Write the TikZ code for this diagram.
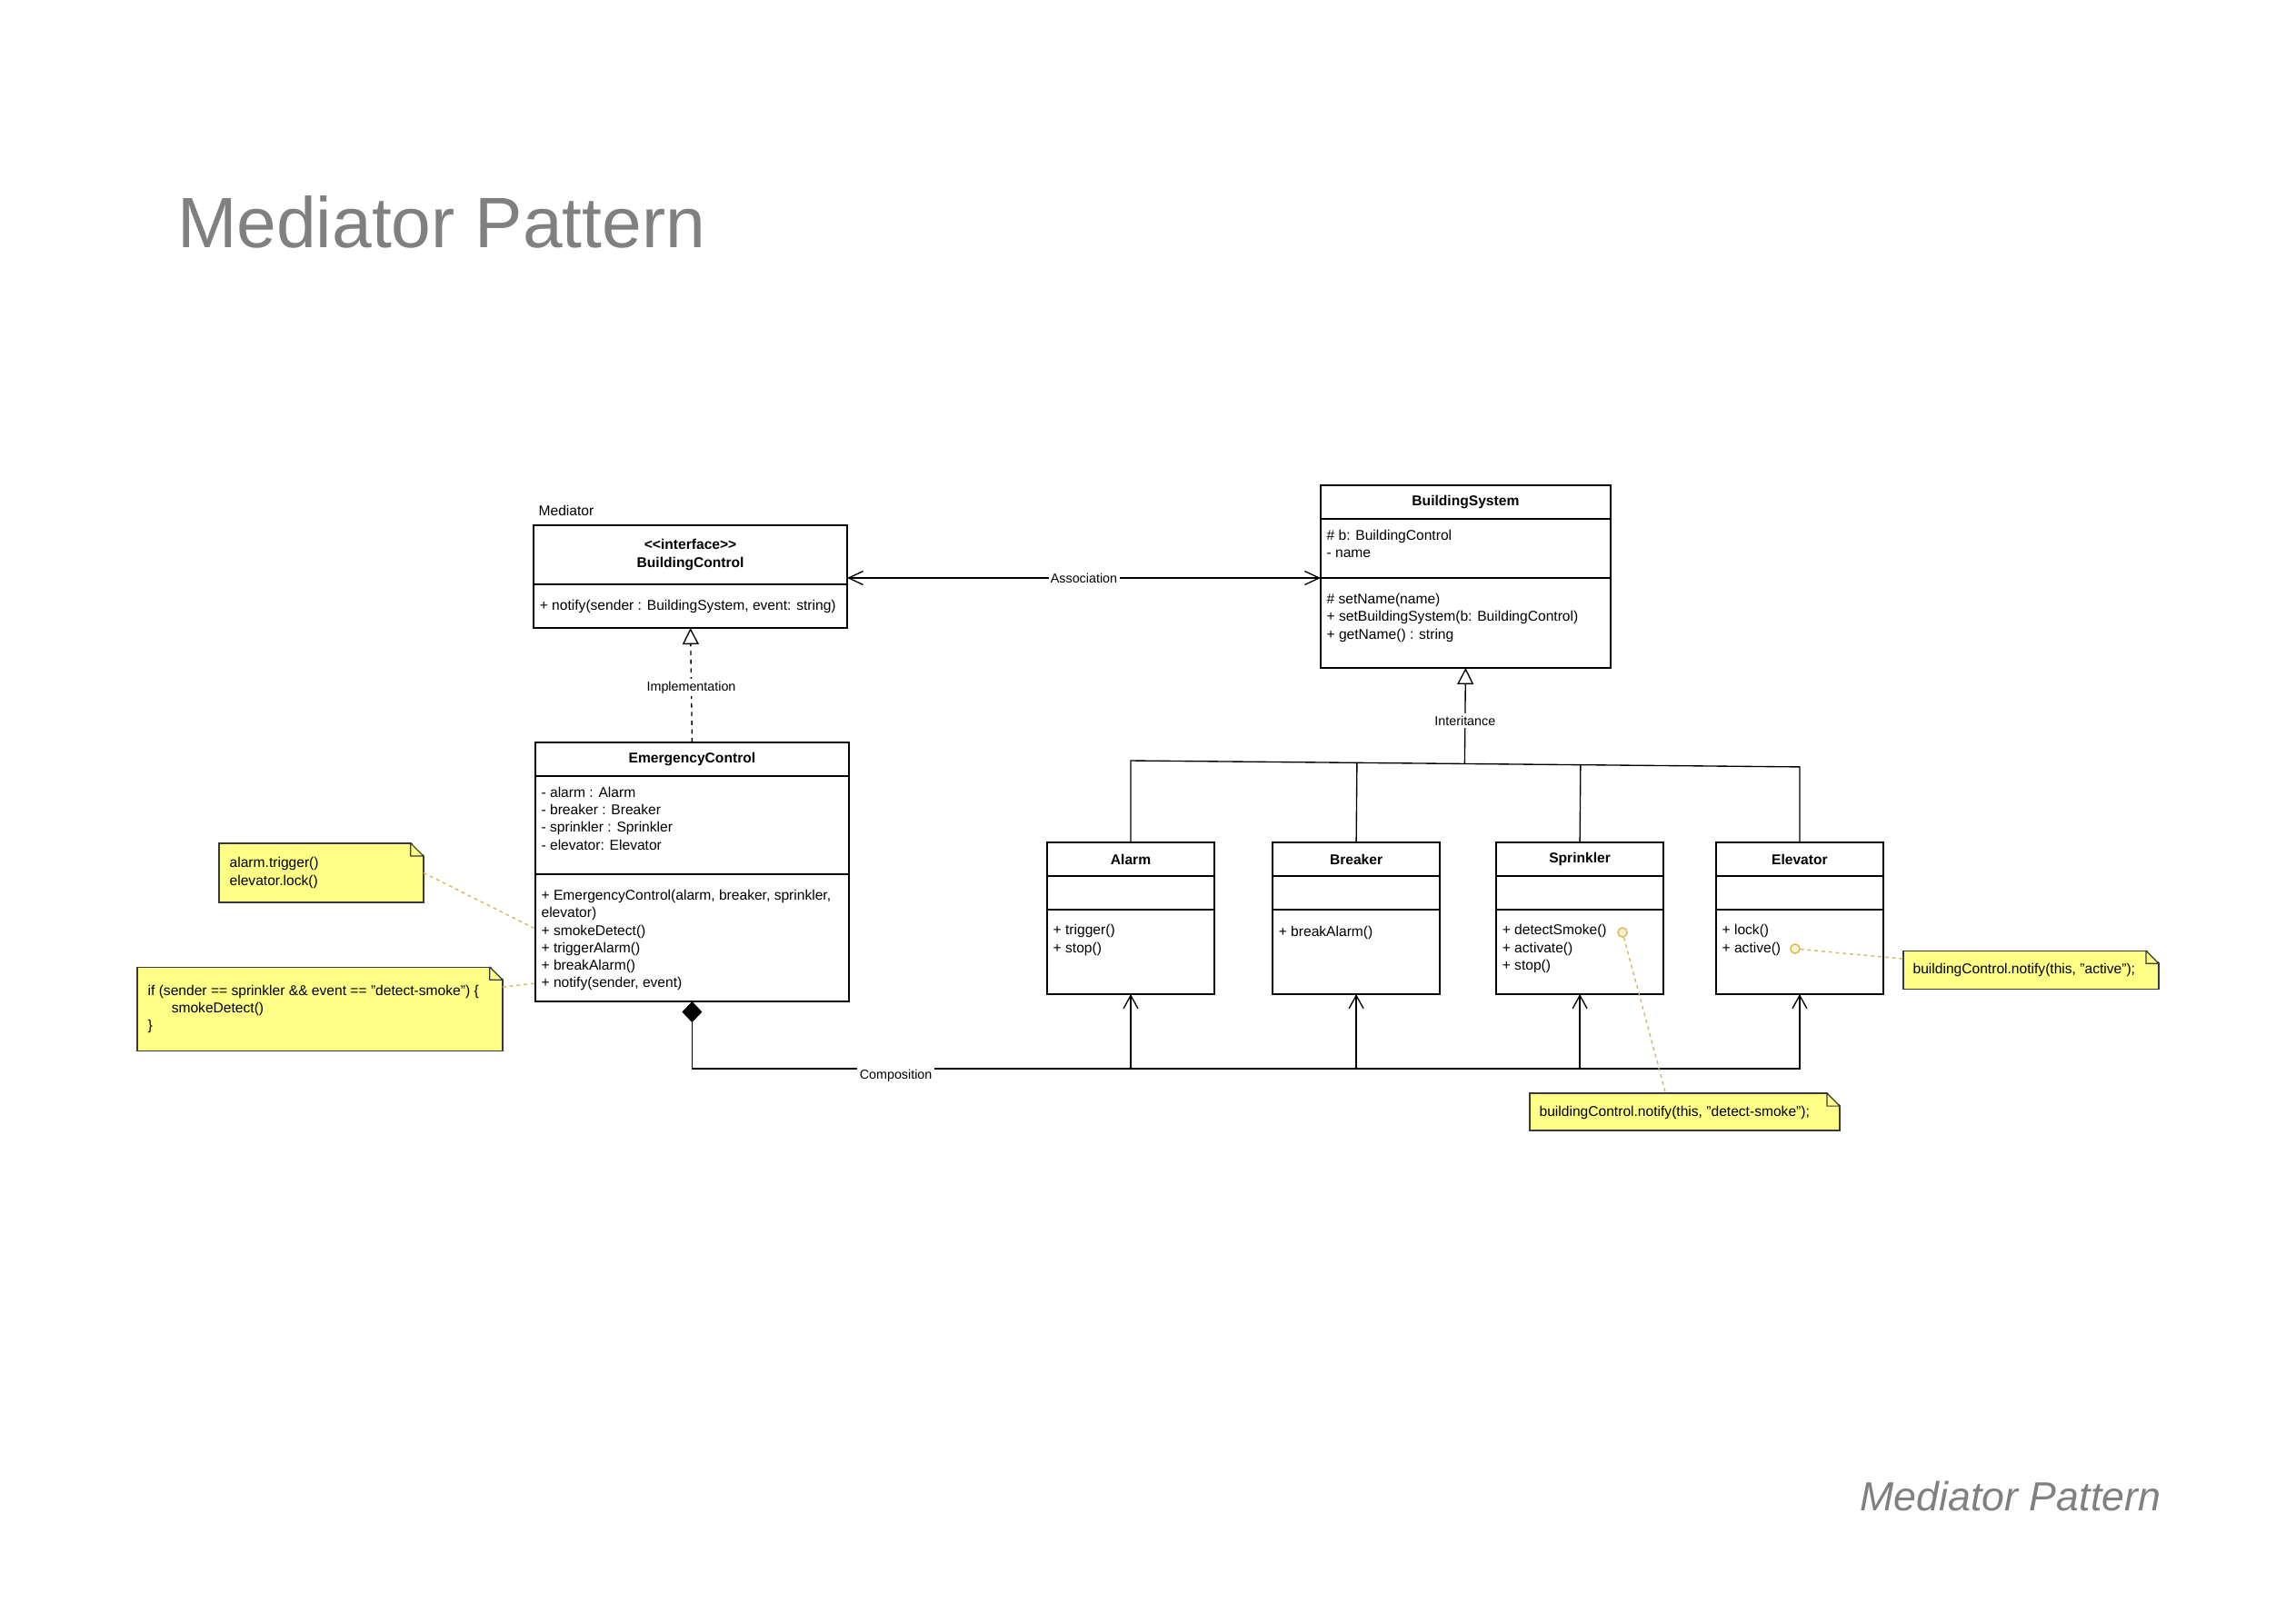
\documentclass[tikz,border=0pt]{standalone}
\usepackage{fontspec}
\setmainfont{Liberation Sans}
\usetikzlibrary{arrows.meta, positioning, calc}

\definecolor{titlegray}{RGB}{128, 128, 128}
\definecolor{notefill}{RGB}{255, 255, 136}
\definecolor{noteline}{RGB}{54, 57, 61}
\definecolor{linkgold}{RGB}{214, 182, 86}
\definecolor{dotfill}{RGB}{255, 242, 204}

\newcommand{\umlfont}{\fontsize{5.2pt}{6.38pt}\selectfont}
\newcommand{\tagfont}{\fontsize{4.77pt}{5.7pt}\selectfont}

\tikzset{
  classbox/.style={draw=black, line width=0.45pt, outer sep=0pt, inner sep=0pt, minimum width=#1},
  classhead/.style={classbox=#1, font=\umlfont\bfseries, align=center},
  members/.style={anchor=north west, align=left, inner sep=0pt, font=\umlfont, execute at begin node={\rule{0pt}{4.2pt}}},
  umlnote/.style={fill=notefill, draw=noteline, line width=0.4pt, outer sep=0pt, inner sep=0pt},
  notelink/.style={draw=linkgold, line width=0.45pt, dash pattern=on 1.3pt off 1.3pt},
  notedot/.style={circle, draw=linkgold, fill=dotfill, line width=0.45pt, minimum size=3.4pt, inner sep=0pt},
  edgelabel/.style={fill=white, inner sep=0.8pt, font=\tagfont},
  openhead/.style={-{Straight Barb[length=4.8pt, width=5.3pt]}},
}

\begin{document}
\begin{tikzpicture}[x=1pt, y=-1pt, line width=0.45pt]
  \path[use as bounding box, fill=white] (0,0) rectangle (842,595);

  % titles
  \node[anchor=base west, inner sep=0pt, text=titlegray, font=\fontsize{26.2pt}{31pt}\selectfont] (title) at (64.8,90.7) {Mediator Pattern};
  \node[anchor=base west, inner sep=0pt, text=titlegray, font=\fontsize{14.9pt}{18pt}\selectfont\itshape] (footer) at (682,554) {Mediator Pattern};

  % mediator interface
  \node[anchor=base west, inner sep=0pt, font=\umlfont] (medLabel) at (197.3,189.3) {Mediator};
  \node[classhead=115pt, minimum height=21.67pt, anchor=north west] (bcHead) at (195.7,192.67) {<\kern0pt<interface>\kern0pt>\\BuildingControl};
  \node[classbox=115pt, minimum height=16pt, below=0pt of bcHead] (bcBody) {};
  \node[members, anchor=west] (bcOps) at ([xshift=2pt]bcBody.west) {+ notify(sender : BuildingSystem, event: string)};

  % concrete mediator
  \node[classhead=115pt, minimum height=12.33pt, anchor=north west] (ecHead) at (196.3,272.33) {EmergencyControl};
  \node[classbox=115pt, minimum height=36pt, below=0pt of ecHead] (ecAttr) {};
  \node[classbox=115pt, minimum height=46.67pt, below=0pt of ecAttr] (ecMeth) {};
  \node[members] (ecAttrText) at ([shift={(2pt,-3.9pt)}]ecAttr.north west) {- alarm : Alarm\\- breaker : Breaker\\- sprinkler : Sprinkler\\- elevator: Elevator};
  \node[members] (ecMethText) at ([shift={(2pt,-5.6pt)}]ecMeth.north west) {+ EmergencyControl(alarm, breaker, sprinkler,\\elevator)\\+ smokeDetect()\\+ triggerAlarm()\\+ breakAlarm()\\+ notify(sender, event)};

  % colleague base class
  \node[classhead=106.33pt, minimum height=12.33pt, anchor=north west] (bsHead) at (484.3,178) {BuildingSystem};
  \node[classbox=106.33pt, minimum height=21.67pt, below=0pt of bsHead] (bsAttr) {};
  \node[classbox=106.33pt, minimum height=33pt, below=0pt of bsAttr] (bsMeth) {};
  \node[members] (bsAttrText) at ([shift={(2pt,-3.9pt)}]bsAttr.north west) {\# b: BuildingControl\\- name};
  \node[members] (bsMethText) at ([shift={(2pt,-5.6pt)}]bsMeth.north west) {\# setName(name)\\+ setBuildingSystem(b: BuildingControl)\\+ getName() : string};

  % colleagues
  \foreach \id/\xpos/\title in {alarm/384/Alarm, breaker/466.7/Breaker, sprinkler/548.7/Sprinkler, elevator/629.3/Elevator} {
    \node[classhead=61.33pt, minimum height=12.33pt, anchor=north west] (\id H) at (\xpos,309) {\title};
    \node[classbox=61.33pt, minimum height=12.33pt, below=0pt of \id H] (\id A) {};
    \node[classbox=61.33pt, minimum height=31pt, below=0pt of \id A] (\id M) {};
  }
  \node[members] (alarmOps) at ([shift={(2pt,-5.3pt)}]alarmM.north west) {+ trigger()\\+ stop()};
  \node[members] (breakerOps) at ([shift={(2pt,-5.3pt)}]breakerM.north west) {+ breakAlarm()};
  \node[members] (sprinklerOps) at ([shift={(2pt,-5.3pt)}]sprinklerM.north west) {+ detectSmoke()\\+ activate()\\+ stop()};
  \node[members] (elevatorOps) at ([shift={(2pt,-5.3pt)}]elevatorM.north west) {+ lock()\\+ active()};

  % association
  \draw[{Straight Barb[length=5.3pt, width=5pt]}-{Straight Barb[length=5.3pt, width=5pt]}] (bcHead.east |- bsAttr.south west) -- node[edgelabel] {Association} (bsAttr.south west);

  % implementation
  \draw[dash pattern=on 1.6pt off 1.6pt, -{Triangle[open, length=6pt, width=6pt]}] (ecHead.north) -- node[edgelabel, pos=0.48] {Implementation} (bcBody.south);

  % inheritance
  \coordinate (barL) at (415,279);
  \coordinate (barR) at (660.5,281.3);
  \draw (alarmH.north) -- (alarmH.north |- barL) -- (elevatorH.north |- barR) -- (elevatorH.north);
  \foreach \id in {breaker, sprinkler}
    \draw (\id H.north) -- ($(alarmH.north |- barL)!(\id H.north)!(elevatorH.north |- barR)$);
  \draw[-{Triangle[open, length=6pt, width=6pt]}] ($(alarmH.north |- barL)!(bsMeth.south)!(elevatorH.north |- barR)$) -- node[edgelabel, pos=0.45] {Interitance} (bsMeth.south);

  % composition
  \coordinate (compLine) at (0,392);
  \draw[{Diamond[length=7.7pt, width=7.3pt]}-{Straight Barb[length=4.8pt, width=5.3pt]}] (ecMeth.south) -- (ecMeth.south |- compLine) -- node[edgelabel, pos=0.184, yshift=-2.7pt] {Composition} (elevatorM.south |- compLine) -- (elevatorM.south);
  \foreach \id in {alarm, breaker, sprinkler}
    \draw[openhead] (\id M.south |- compLine) -- (\id M.south);

  % notes
  \node[umlnote, minimum width=75pt, minimum height=21.67pt, anchor=north west] (noteTrig) at (80.3,309.3) {};
  \node[umlnote, minimum width=134pt, minimum height=30.67pt, anchor=north west] (noteIf) at (50.3,354.7) {};
  \node[umlnote, minimum width=93.67pt, minimum height=14pt, anchor=north west] (noteActive) at (698,348.7) {};
  \node[umlnote, minimum width=113.67pt, minimum height=13.67pt, anchor=north west] (noteSmoke) at (561,401) {};
  \foreach \n in {noteTrig, noteIf, noteActive, noteSmoke} {
    \fill[white] ([shift={(-4.7pt,0.5pt)}]\n.north east) -- ([shift={(0.5pt,0.5pt)}]\n.north east) -- ([shift={(0.5pt,-4.7pt)}]\n.north east) -- cycle;
    \filldraw[fill=notefill, draw=noteline, line width=0.4pt, line join=round] ([xshift=-4.7pt]\n.north east) -- ([yshift=-4.7pt]\n.north east) -- ([shift={(-4.7pt,-4.7pt)}]\n.north east) -- cycle;
  }
  \node[members, anchor=west] (noteTrigText) at ([xshift=3.7pt]noteTrig.west) {alarm.trigger()\\elevator.lock()};
  \node[members, anchor=west] (noteIfText) at ([xshift=3.7pt]noteIf.west) {if (sender == sprinkler \&\& event == "detect-smoke") \{\\\hspace*{8.7pt}smokeDetect()\\\}};
  \node[members, anchor=west] (noteActiveText) at ([xshift=3.3pt]noteActive.west) {buildingControl.notify(this, "active");};
  \node[members, anchor=west] (noteSmokeText) at ([xshift=3.3pt]noteSmoke.west) {buildingControl.notify(this, "detect-smoke");};

  % note links
  \node[notedot] (dotSmoke) at (595,342) {};
  \node[notedot] (dotActive) at (658.3,348) {};
  \draw[notelink] (noteTrig.east) -- ([yshift=-20pt]ecMeth.north west);
  \draw[notelink] ([yshift=8pt]noteIf.east) -- ([yshift=-40pt]ecMeth.north west);
  \draw[notelink] (dotSmoke) -- ([xshift=-7pt]noteSmoke.north);
  \draw[notelink] (dotActive) -- ([yshift=4pt]noteActive.west);
\end{tikzpicture}
\end{document}
